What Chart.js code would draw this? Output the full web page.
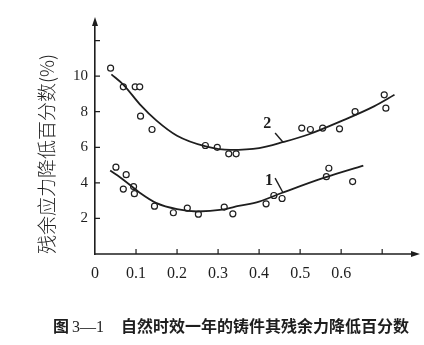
<!DOCTYPE html>
<html>
<head>
<meta charset="utf-8">
<script src="https://cdn.jsdelivr.net/npm/chart.js@4.4.1/dist/chart.umd.min.js"></script>
<style>
  html, body { margin: 0; padding: 0; background: #fff; }
  #wrap { position: relative; width: 424px; height: 345px; }
  #c { position: absolute; left: 0; top: 0; }
  #caption {
    position: absolute; left: 53px; top: 315px;
    font: bold 16px "Noto Sans CJK SC", sans-serif; color: #1e1e1e;
    white-space: nowrap; line-height: 20px;
  }
  #caption .num { margin-left: 3px; margin-right: 17px; font-family: "Liberation Serif", serif; font-weight: normal; }
</style>
</head>
<body>
<div id="wrap">
  <canvas id="c" width="424" height="345"></canvas>
  <div id="caption">图<span class="num">3—1</span>自然时效一年的铸件其残余力降低百分数</div>
</div>
<script>
// Axis ticks and labels
const xTicks = [0, 0.1, 0.2, 0.3, 0.4, 0.5, 0.6, 0.7];
const xTickLabels = ['0', '0.1', '0.2', '0.3', '0.4', '0.5', '0.6', ''];
const yTicks = [2, 4, 6, 8, 10, 12];
const yTickLabels = ['2', '4', '6', '8', '10', ''];

// Curve 2: measured points and fitted curve
const s2X = [0.038, 0.069, 0.098, 0.109, 0.111, 0.139, 0.269, 0.298, 0.326, 0.344, 0.504, 0.525, 0.555, 0.596, 0.634, 0.705, 0.709];
const s2Y = [10.45, 9.4, 9.4, 9.4, 7.75, 7.0, 6.1, 6.0, 5.63, 5.63, 7.08, 7.0, 7.08, 7.04, 8.0, 8.95, 8.2];
const fit2X = [0.04, 0.07, 0.11, 0.15, 0.2, 0.27, 0.33, 0.4, 0.46, 0.52, 0.6, 0.68, 0.73];
const fit2Y = [10.1, 9.5, 8.4, 7.5, 6.65, 6.05, 5.85, 5.95, 6.3, 6.72, 7.47, 8.3, 8.95];

// Curve 1: measured points and fitted curve
const s1X = [0.051, 0.076, 0.069, 0.094, 0.096, 0.145, 0.191, 0.225, 0.252, 0.315, 0.336, 0.417, 0.436, 0.456, 0.564, 0.57, 0.628];
const s1Y = [4.88, 4.46, 3.65, 3.79, 3.39, 2.69, 2.32, 2.58, 2.24, 2.64, 2.26, 2.82, 3.29, 3.12, 4.35, 4.82, 4.07];
const fit1X = [0.037, 0.069, 0.11, 0.15, 0.2, 0.25, 0.31, 0.35, 0.4, 0.455, 0.557, 0.654];
const fit1Y = [4.69, 4.18, 3.43, 2.86, 2.52, 2.39, 2.49, 2.7, 2.95, 3.43, 4.28, 4.97];

// Curve labels and their leader lines
const curveLabels = ['1', '2'];
const labelX = [0.424, 0.42];
const labelY = [4.13, 7.3];
const leader1X = [0.439, 0.458];
const leader1Y = [4.27, 3.46];
const leader2X = [0.439, 0.459];
const leader2Y = [6.8, 6.27];

const INK = '#1e1e1e';
const pts = (xs, ys) => xs.map((x, i) => ({ x, y: ys[i] }));

const fitStyle = {
  type: 'line', showLine: true, borderColor: INK, borderWidth: 1.8,
  pointRadius: 0, cubicInterpolationMode: 'monotone', fill: false
};
const dotStyle = {
  type: 'scatter', showLine: false, borderColor: INK, backgroundColor: '#fff',
  pointRadius: 3, pointBorderWidth: 1.2, pointStyle: 'circle'
};
const leaderStyle = {
  type: 'line', showLine: true, borderColor: INK, borderWidth: 1.4, pointRadius: 0, tension: 0
};

// Inward tick marks, axis arrows and curve labels
const decorations = {
  id: 'decorations',
  afterDraw(chart) {
    const { ctx, scales: { x, y } } = chart;
    const x0 = x.getPixelForValue(0), y0 = y.getPixelForValue(0);
    ctx.save();
    ctx.strokeStyle = INK; ctx.fillStyle = INK; ctx.lineWidth = 1.2;
    ctx.beginPath();
    yTicks.forEach(v => { const p = y.getPixelForValue(v); ctx.moveTo(x0, p); ctx.lineTo(x0 + 5, p); });
    xTicks.slice(1).forEach(v => { const p = x.getPixelForValue(v); ctx.moveTo(p, y0); ctx.lineTo(p, y0 - 5); });
    ctx.stroke();
    // arrows
    const xr = chart.chartArea.right + 2, yt = chart.chartArea.top - 1;
    ctx.beginPath();
    ctx.moveTo(xr + 3, y0); ctx.lineTo(xr - 6, y0 - 3); ctx.lineTo(xr - 6, y0 + 3); ctx.closePath();
    ctx.moveTo(x0, yt - 3); ctx.lineTo(x0 - 3, yt + 6); ctx.lineTo(x0 + 3, yt + 6); ctx.closePath();
    ctx.fill();
    ctx.lineWidth = 1.5;
    ctx.beginPath(); ctx.moveTo(x0, y0); ctx.lineTo(xr, y0); ctx.stroke();
    // curve labels
    ctx.font = 'bold 16px "Liberation Serif", serif';
    ctx.textAlign = 'center'; ctx.textBaseline = 'middle';
    curveLabels.forEach((t, i) => ctx.fillText(t, x.getPixelForValue(labelX[i]), y.getPixelForValue(labelY[i])));
    ctx.restore();
  }
};

new Chart(document.getElementById('c'), {
  data: {
    datasets: [
      { ...fitStyle, data: pts(fit2X, fit2Y) },
      { ...fitStyle, data: pts(fit1X, fit1Y) },
      { ...dotStyle, data: pts(s2X, s2Y) },
      { ...dotStyle, data: pts(s1X, s1Y) },
      { ...leaderStyle, data: pts(leader1X, leader1Y) },
      { ...leaderStyle, data: pts(leader2X, leader2Y) }
    ]
  },
  options: {
    responsive: false, animation: false, devicePixelRatio: 1,
    layout: { padding: { top: 21, right: 9, left: 0, bottom: 0 } },
    plugins: { legend: { display: false }, tooltip: { enabled: false } },
    scales: {
      x: {
        type: 'linear', min: 0, max: 0.78,
        afterBuildTicks: s => { s.ticks = xTicks.map(v => ({ value: v })); },
        afterFit: s => { s.height = 91; },
        grid: { display: false, drawTicks: false },
        border: { display: false },
        ticks: {
          padding: 10, color: INK,
          font: { family: '"Liberation Serif", serif', size: 16 },
          callback: (v, i) => xTickLabels[i]
        }
      },
      y: {
        type: 'linear', min: 0, max: 13.1,
        afterBuildTicks: s => { s.ticks = yTicks.map(v => ({ value: v })); },
        afterFit: s => { s.width = 95; },
        grid: { display: false, drawTicks: false },
        border: { display: true, color: INK, width: 1.6 },
        ticks: {
          padding: 7, color: INK,
          font: { family: '"Liberation Serif", serif', size: 15 },
          callback: (v, i) => yTickLabels[i]
        },
        title: {
          display: true, text: '残余应力降低百分数(%)', align: 'start',
          color: INK, padding: { top: 35, bottom: 0 },
          font: { family: '"Noto Sans CJK SC", sans-serif', size: 19, weight: 300 }
        }
      }
    }
  },
  plugins: [decorations]
});
</script>
</body>
</html>
